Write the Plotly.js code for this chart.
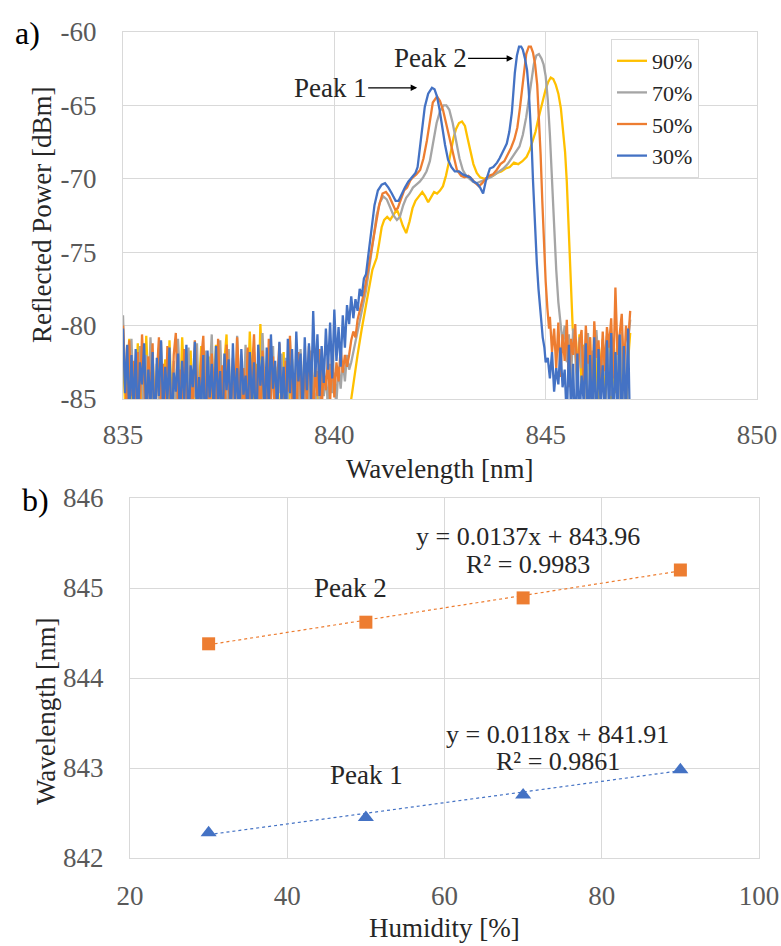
<!DOCTYPE html>
<html>
<head>
<meta charset="utf-8">
<script src="https://cdn.plot.ly/plotly-3.0.1.min.js"></script>
<style>
  html, body { margin: 0; padding: 0; background: #ffffff; }
  #chart { width: 781px; height: 946px; }
</style>
</head>
<body>
<div id="chart"></div>
<script>
// ---------------- Panel a) spectra (read off the picture) ----------------
const seriesNames = ['90%', '70%', '50%', '30%'];
const NOISE_STEP = 0.05;
const LEFT_START = 835.0;
const specTickVals = [-85, -80, -75, -70, -65, -60];
const specTickText = ['-85', '-80', '-75', '-70', '-65', '-60'];

// 30% (blue) — left noise floor, 835.00 .. 840.30
const blueNoiseL = [
  -80.2,-84.6,-81.3,-86.5,-82.0,-85.8,-81.6,-87.0,-82.5,-84.0,
  -81.2,-86.2,-83.0,-85.5,-81.8,-88.0,-82.2,-84.8,-81.0,-86.0,
  -82.8,-85.2,-81.5,-87.5,-83.2,-84.5,-81.9,-86.8,-82.4,-85.0,
  -81.3,-87.2,-82.7,-84.2,-81.1,-86.4,-83.5,-85.6,-82.0,-88.5,
  -81.7,-84.9,-82.6,-86.1,-81.4,-85.3,-83.1,-87.8,-81.9,-84.4,
  -82.3,-86.6,-81.2,-85.1,-82.9,-87.0,-81.6,-84.7,-83.4,-86.3,
  -81.8,-85.4,-82.5,-88.2,-81.3,-84.1,-82.1,-86.9,-81.5,-85.7,
  -80.6,-84.3,-82.4,-86.0,-81.1,-85.2,-82.8,-87.4,-80.9,-84.6,
  -81.6,-85.9,-80.4,-83.8,-81.9,-86.2,-80.8,-84.4,-81.2,-85.0,
  -79.0,-83.5,-80.6,-84.8,-81.4,-83.9,-80.2,-83.0,-79.8,-83.6,
  -78.9,-82.4,-80.1,-82.8,-79.3,-81.5,-78.6
];
const blueBandX = [840.35,840.40,840.45,840.50,840.55,840.60,840.65,840.70,840.75,840.80,840.85,840.90,840.95,841.03,841.12,841.20,841.28,841.36,841.45,841.52,841.60,841.67,841.75,841.84,841.92,841.97,842.03,842.09,842.14,842.22,842.31,842.37,842.43,842.49,842.55,842.62,842.69,842.77,842.85,842.95,843.04,843.12,843.21,843.30,843.37,843.45,843.52,843.58,843.63,843.68,843.76,843.85,843.91,843.97,844.03,844.08,844.14,844.20,844.24,844.27,844.32,844.37,844.42,844.46,844.51,844.56,844.60,844.63,844.67,844.70,844.74,844.79,844.83,844.86,844.90,844.93,844.97,845.00];
const blueBandY = [-79.9,-78.0,-79.5,-78.2,-79.0,-77.5,-78.0,-76.8,-76.5,-75.3,-74.2,-73.0,-71.8,-70.8,-70.4,-70.3,-70.6,-71.0,-71.5,-71.5,-71.0,-70.6,-70.2,-69.9,-69.6,-69.2,-67.8,-66.3,-65.1,-64.2,-63.8,-63.9,-64.4,-65.3,-66.5,-67.7,-68.7,-69.2,-69.5,-69.5,-69.7,-69.8,-69.9,-70.2,-70.3,-70.6,-71.0,-70.2,-69.7,-69.3,-69.2,-68.9,-68.6,-68.2,-67.9,-67.6,-66.8,-65.5,-64.0,-62.8,-61.6,-61.0,-61.0,-61.2,-61.8,-62.6,-64.0,-65.5,-67.8,-70.1,-73.0,-75.7,-77.5,-78.3,-79.8,-80.8,-81.5,-82.5];
const blueRStart = 845.05;
const blueNoiseR = [
  -82.2,-83.6,-81.8,-84.5,-82.9,-84.0,-81.5,-84.2,-83.0,-86.5,
  -81.3,-85.8,-82.6,-88.0,-81.9,-86.5,-83.4,-85.2,-81.2,-87.8,
  -82.0,-86.8,-80.8,-88.5,-81.6,-85.4,-82.7,-87.0,-81.0,-86.2,
  -80.5,-88.0,-81.8,-85.6,-80.6,-87.5,-81.4,-86.4,-80.2,-88.0
];

// 50% (orange)
const orangeNoiseL = [
  -80.0,-83.5,-86.5,-81.0,-84.8,-82.4,-87.0,-81.8,-85.5,-80.6,
  -84.2,-86.8,-82.1,-85.0,-81.2,-87.5,-83.4,-80.8,-85.9,-82.6,
  -86.4,-81.4,-84.0,-87.2,-82.0,-80.5,-85.3,-83.0,-86.0,-81.6,
  -84.6,-88.0,-82.8,-85.7,-81.0,-84.1,-86.9,-82.3,-80.7,-85.4,
  -83.6,-87.4,-81.9,-84.4,-86.2,-80.9,-85.1,-82.7,-87.8,-81.3,
  -84.9,-86.6,-82.2,-85.6,-80.8,-84.3,-87.1,-82.9,-85.8,-81.5,
  -86.3,-83.2,-80.6,-85.2,-82.5,-87.6,-81.7,-84.7,-86.1,-80.9,
  -85.0,-82.1,-87.3,-83.8,-81.2,-85.5,-86.8,-82.4,-84.5,-80.7,
  -85.9,-83.3,-87.0,-81.8,-84.6,-86.5,-82.6,-85.1,-81.4,-84.0,
  -86.2,-82.8,-84.8,-81.6,-85.7,-83.0,-84.4,-82.2,-85.2,-81.8,
  -84.9,-82.5,-83.8,-81.5,-83.2,-82.0,-82.8
];
const orangeBandX = [840.35,840.40,840.45,840.50,840.55,840.60,840.65,840.70,840.75,840.80,840.85,840.90,840.95,841.00,841.06,841.14,841.22,841.30,841.36,841.44,841.50,841.58,841.65,841.72,841.80,841.86,841.94,842.03,842.11,842.19,842.26,842.33,842.43,842.50,842.57,842.65,842.74,842.82,842.90,843.00,843.08,843.17,843.25,843.34,843.42,843.50,843.58,843.66,843.75,843.84,843.93,844.02,844.10,844.18,844.26,844.33,844.39,844.44,844.49,844.54,844.60,844.65,844.70,844.75,844.80,844.84,844.88,844.92,844.96,845.00,845.04,845.08];
const orangeBandY = [-82.0,-81.0,-80.4,-80.8,-79.6,-79.0,-78.6,-77.8,-77.0,-76.2,-75.4,-74.6,-73.6,-72.8,-71.8,-71.0,-70.9,-71.2,-71.6,-72.1,-72.0,-71.3,-70.8,-70.6,-70.1,-69.9,-69.7,-69.4,-68.6,-67.4,-66.0,-64.8,-64.4,-64.7,-65.3,-66.3,-67.4,-68.6,-69.4,-69.8,-69.9,-69.8,-70.0,-70.3,-70.5,-70.3,-70.0,-69.8,-69.7,-69.4,-69.0,-68.8,-68.4,-67.9,-67.3,-66.5,-65.2,-63.8,-62.4,-61.5,-61.0,-61.0,-61.4,-62.2,-63.6,-65.6,-68.3,-71.5,-74.5,-77.0,-78.8,-80.2];
const orangeRStart = 845.10;
const orangeNoiseR = [
  -79.4,-81.8,-80.2,-82.9,-79.8,-83.5,-80.6,-82.4,-79.6,-84.2,
  -80.9,-82.0,-79.9,-83.8,-81.2,-80.3,-84.5,-80.0,-82.6,-80.8,
  -85.2,-79.7,-82.2,-81.0,-84.0,-80.4,-83.1,-80.1,-81.5,-79.5,
  -83.6,-77.4,-82.0,-80.6,-79.2,-83.4,-80.0,-81.2,-79.0
];

// 70% (gray)
const grayNoiseL = [
  -79.3,-84.0,-82.2,-86.0,-80.9,-85.2,-83.1,-87.4,-81.4,-84.5,
  -86.3,-82.0,-85.6,-80.8,-84.1,-87.0,-82.6,-85.3,-81.1,-86.7,
  -83.3,-84.7,-81.9,-87.3,-82.4,-85.8,-80.9,-84.3,-86.5,-82.1,
  -85.1,-81.5,-87.6,-83.0,-84.9,-81.2,-86.0,-82.8,-85.4,-81.7,
  -87.2,-83.5,-80.6,-85.7,-82.3,-86.4,-81.0,-84.6,-83.2,-87.9,
  -81.6,-85.0,-82.9,-86.8,-80.7,-84.2,-83.6,-85.9,-81.3,-86.6,
  -82.5,-84.8,-81.8,-87.1,-83.0,-85.5,-80.5,-84.0,-86.2,-82.7,
  -85.3,-81.4,-86.9,-83.4,-84.6,-81.9,-86.1,-82.2,-85.2,-81.0,
  -84.7,-86.4,-82.5,-85.6,-81.6,-84.2,-87.0,-82.9,-85.8,-81.7,
  -84.4,-86.0,-83.1,-85.0,-82.3,-84.8,-83.5,-85.5,-82.6,-84.6,
  -83.2,-85.2,-82.8,-84.3,-82.4,-83.8,-82.0
];
const grayBandX = [840.35,840.40,840.45,840.50,840.55,840.60,840.65,840.70,840.75,840.80,840.85,840.90,840.95,841.00,841.08,841.16,841.24,841.32,841.40,841.48,841.55,841.63,841.70,841.78,841.86,841.94,842.02,842.10,842.18,842.26,842.34,842.42,842.50,842.58,842.65,842.72,842.80,842.88,842.96,843.04,843.12,843.20,843.28,843.36,843.44,843.52,843.60,843.70,843.80,843.90,844.00,844.10,844.20,844.30,844.38,844.46,844.54,844.60,844.66,844.72,844.78,844.84,844.90,844.95,845.00,845.05,845.10,845.15,845.20,845.25,845.30,845.35];
const grayBandY = [-83.0,-82.5,-81.8,-81.0,-80.4,-79.8,-79.0,-78.3,-77.6,-76.6,-75.5,-74.4,-73.4,-72.5,-71.6,-71.2,-71.4,-72.0,-72.5,-72.8,-72.6,-71.8,-71.3,-71.0,-70.6,-70.4,-70.2,-69.9,-69.5,-68.8,-67.6,-66.2,-65.4,-65.0,-65.0,-65.3,-66.2,-67.4,-68.6,-69.4,-69.8,-70.0,-70.2,-70.3,-70.2,-70.1,-70.0,-69.9,-69.7,-69.5,-69.3,-69.0,-68.6,-68.2,-67.8,-67.0,-65.8,-64.6,-63.3,-62.2,-61.6,-61.5,-61.8,-62.2,-63.0,-64.6,-67.0,-70.2,-73.4,-76.2,-78.4,-80.0];
const grayRStart = 845.40;
const grayNoiseR = [
  -81.2,-80.0,-82.5,-80.6,-83.8,-80.2,-82.0,-84.6,-80.8,-82.9,
  -81.4,-85.3,-80.5,-83.1,-81.7,-84.2,-80.3,-82.6,-85.0,-81.0,
  -83.4,-80.7,-82.2,-84.8,-80.9,-83.0,-81.5,-85.6,-80.4,-82.8,
  -86.0,-81.1,-79.6
];

// 90% (yellow)
const yellowNoiseL = [
  -81.8,-85.5,-82.6,-80.9,-86.2,-83.4,-84.7,-81.2,-87.0,-82.8,
  -85.1,-80.7,-84.3,-86.9,-82.0,-85.8,-83.6,-81.5,-87.3,-84.0,
  -82.3,-86.0,-81.0,-84.9,-83.2,-87.5,-82.5,-85.4,-80.8,-84.6,
  -86.7,-83.0,-81.7,-85.9,-82.9,-87.1,-84.2,-81.4,-86.3,-83.7,
  -85.2,-82.1,-87.6,-84.5,-81.3,-86.1,-83.3,-85.6,-82.4,-80.6,
  -86.8,-84.8,-82.7,-85.3,-81.9,-87.4,-83.9,-86.5,-82.2,-85.0,
  -80.4,-84.1,-86.4,-82.6,-85.7,-79.9,-84.4,-86.6,-83.1,-81.6,
  -85.5,-87.0,-82.8,-84.9,-86.2,-83.5,-81.8,-85.8,-87.2,-84.0,
  -82.3,-86.5,-83.8,-85.1,-87.5,-84.6,-82.5,-86.0,-88.0,-85.3,
  -83.4,-86.8,-84.2,-87.6,-85.5,-88.5,-86.2,-84.8,-87.9,-86.5,
  -88.4,-87.0,-86.6,-89.0,-87.5,-88.0,-86.8
];
const yellowBandX = [840.35,840.40,840.45,840.50,840.55,840.60,840.65,840.70,840.75,840.80,840.85,840.90,840.95,841.00,841.06,841.12,841.18,841.25,841.32,841.40,841.48,841.55,841.62,841.70,841.78,841.85,841.92,842.00,842.08,842.15,842.22,842.28,842.36,842.43,842.50,842.57,842.64,842.70,842.76,842.82,842.88,842.95,843.02,843.09,843.15,843.22,843.29,843.37,843.45,843.55,843.65,843.75,843.85,843.95,844.05,844.15,844.25,844.35,844.45,844.55,844.63,844.70,844.76,844.82,844.88,844.94,845.00,845.06,845.12,845.18,845.24,845.30,845.36,845.41,845.46,845.50,845.54,845.57,845.60,845.64,845.68];
const yellowBandY = [-86.0,-85.0,-83.8,-83.0,-82.0,-81.0,-80.2,-79.4,-78.6,-77.8,-77.0,-76.2,-75.8,-75.4,-74.4,-73.3,-72.8,-72.6,-72.8,-72.4,-72.1,-72.6,-73.2,-73.7,-72.9,-72.0,-71.5,-71.2,-70.9,-71.2,-71.6,-71.3,-70.9,-71.0,-70.8,-70.5,-69.8,-69.0,-68.0,-67.2,-66.6,-66.2,-66.1,-66.4,-67.2,-68.2,-69.0,-69.6,-69.9,-70.0,-69.9,-69.8,-69.6,-69.5,-69.3,-69.2,-68.9,-69.0,-68.8,-68.5,-68.0,-67.4,-66.8,-66.0,-65.2,-64.6,-63.9,-63.4,-63.1,-63.2,-63.6,-64.2,-65.2,-66.6,-68.2,-70.2,-73.0,-75.8,-78.0,-80.2,-81.0];
const yellowRStart = 845.75;
const yellowNoiseR = [
  -82.5,-80.6,-84.0,-81.3,-85.8,-82.2,-80.8,-86.4,-83.0,-81.5,
  -87.0,-82.6,-80.9,-85.5,-83.4,-81.2,-86.8,-82.0,-84.6,-80.7,
  -87.5,-83.2,-81.8,-88.0,-82.4,-80.5
];

// ---------------- Panel b) peak wavelength vs humidity ----------------
const humidity = [30, 50, 70, 90];
const peak2 = [844.38, 844.62, 844.89, 845.20];
const peak1 = [842.28, 842.45, 842.70, 842.98];
const trendX = [30, 90];
const peak2Trend = [844.37, 845.19];
const peak1Trend = [842.26, 842.97];
const peak2Eq = 'y = 0.0137x + 843.96';
const peak2R2 = 'R² = 0.9983';
const peak1Eq = 'y = 0.0118x + 841.91';
const peak1R2 = 'R² = 0.9861';

// ---------------- build ----------------
function grid(start, n) {
  const out = [];
  for (let i = 0; i < n; i++) out.push(+(start + i * NOISE_STEP).toFixed(3));
  return out;
}
function assemble(noiseL, bandX, bandY, rStart, noiseR) {
  const x = grid(LEFT_START, noiseL.length).concat(bandX, grid(rStart, noiseR.length));
  const y = noiseL.concat(bandY, noiseR);
  return {x, y};
}
const sYellow = assemble(yellowNoiseL, yellowBandX, yellowBandY, yellowRStart, yellowNoiseR);
const sGray   = assemble(grayNoiseL, grayBandX, grayBandY, grayRStart, grayNoiseR);
const sOrange = assemble(orangeNoiseL, orangeBandX, orangeBandY, orangeRStart, orangeNoiseR);
const sBlue   = assemble(blueNoiseL, blueBandX, blueBandY, blueRStart, blueNoiseR);

const C_BLUE = '#4472C4', C_ORANGE = '#ED7D31', C_GRAY = '#A5A5A5', C_YELLOW = '#FFC000';
const FONT = 'Liberation Serif, Times New Roman, serif';
const specColors = [C_YELLOW, C_GRAY, C_ORANGE, C_BLUE];
const specSeries = [sYellow, sGray, sOrange, sBlue];

const traces = specSeries.map((s, i) => ({
  type: 'scatter', mode: 'lines', x: s.x, y: s.y, name: seriesNames[i],
  xaxis: 'x', yaxis: 'y',
  line: {color: specColors[i], width: 2.3},
  hoverinfo: 'skip'
}));

traces.push(
  {type: 'scatter', mode: 'lines', x: trendX, y: peak2Trend, xaxis: 'x2', yaxis: 'y2',
   showlegend: false, line: {color: C_ORANGE, width: 1.2, dash: 'dot'}},
  {type: 'scatter', mode: 'lines', x: trendX, y: peak1Trend, xaxis: 'x2', yaxis: 'y2',
   showlegend: false, line: {color: C_BLUE, width: 1.2, dash: 'dot'}},
  {type: 'scatter', mode: 'markers', x: humidity, y: peak2, xaxis: 'x2', yaxis: 'y2',
   showlegend: false, marker: {symbol: 'square', size: 13, color: C_ORANGE}},
  {type: 'scatter', mode: 'markers', x: humidity, y: peak1, xaxis: 'x2', yaxis: 'y2',
   showlegend: false, marker: {symbol: 'triangle-up', size: 14, color: C_BLUE}}
);

const gridC = '#d9d9d9';
const tickFont = {family: FONT, size: 27, color: '#595959'};
const axBase = {
  showgrid: true, gridcolor: gridC, gridwidth: 1,
  showline: true, linecolor: gridC, linewidth: 1, mirror: true,
  zeroline: false, ticks: '', tickfont: tickFont, fixedrange: true
};

const txt = (text, x, y, size, extra) => Object.assign({
  text: text, x: x, y: y, xref: 'paper', yref: 'paper', showarrow: false,
  font: {family: FONT, size: size || 27, color: '#262626'},
  xanchor: 'center', yanchor: 'middle'
}, extra || {});

const W = 781, H = 946;
const px = v => v / W, py = v => 1 - v / H;

const annotations = [
  txt('a)', px(27), py(33), 32, {font: {family: FONT, size: 32, color: '#000'}}),
  txt('b)', px(35), py(500), 32, {font: {family: FONT, size: 32, color: '#000'}}),
  txt('Reflected Power [dBm]', px(42), py(215), 27, {textangle: -90}),
  txt('Wavelength [nm]', px(440), py(469), 27),
  txt('Wavelength [nm]', px(46), py(711), 27, {textangle: -90}),
  txt('Humidity [%]', px(445), py(928), 27),
  // Peak arrows in panel a)
  {text: 'Peak 1', x: 841.96, y: -63.8, xref: 'x', yref: 'y', showarrow: true,
   ax: -87, ay: 0, arrowhead: 2, arrowsize: 1, arrowwidth: 1.3, arrowcolor: '#000',
   font: {family: FONT, size: 27, color: '#262626'}, standoff: 0},
  {text: 'Peak 2', x: 844.23, y: -61.8, xref: 'x', yref: 'y', showarrow: true,
   ax: -83, ay: 0, arrowhead: 2, arrowsize: 1, arrowwidth: 1.3, arrowcolor: '#000',
   font: {family: FONT, size: 27, color: '#262626'}, standoff: 0},
  // Panel b) labels
  {text: peak2Eq, x: 70.6, y: 845.57, xref: 'x2', yref: 'y2', showarrow: false,
   font: {family: FONT, size: 26, color: '#262626'}},
  {text: peak2R2, x: 70.6, y: 845.26, xref: 'x2', yref: 'y2', showarrow: false,
   font: {family: FONT, size: 26, color: '#262626'}},
  {text: peak1Eq, x: 74.4, y: 843.37, xref: 'x2', yref: 'y2', showarrow: false,
   font: {family: FONT, size: 26, color: '#262626'}},
  {text: peak1R2, x: 74.4, y: 843.07, xref: 'x2', yref: 'y2', showarrow: false,
   font: {family: FONT, size: 26, color: '#262626'}},
  {text: 'Peak 2', x: 48.0, y: 845.0, xref: 'x2', yref: 'y2', showarrow: false,
   font: {family: FONT, size: 27, color: '#262626'}},
  {text: 'Peak 1', x: 50.1, y: 842.92, xref: 'x2', yref: 'y2', showarrow: false,
   font: {family: FONT, size: 27, color: '#262626'}}
];

const layout = {
  width: W, height: H,
  margin: {l: 0, r: 0, t: 0, b: 0},
  paper_bgcolor: '#ffffff', plot_bgcolor: '#ffffff',
  font: {family: FONT, color: '#262626'},
  showlegend: true,
  legend: {
    x: px(611), y: py(39), xanchor: 'left', yanchor: 'top',
    bgcolor: '#ffffff', bordercolor: gridC, borderwidth: 1,
    font: {family: FONT, size: 22, color: '#262626'},
    traceorder: 'normal'
  },
  xaxis: Object.assign({}, axBase, {domain: [px(123), px(757)], range: [835, 850], dtick: 5, tick0: 835,
    anchor: 'y', ticklabelstandoff: 12}),
  yaxis: Object.assign({}, axBase, {domain: [py(399), py(32)], range: [-85, -60],
    tickmode: 'array', tickvals: specTickVals, ticktext: specTickText,
    anchor: 'x', ticklabelstandoff: 20}),
  xaxis2: Object.assign({}, axBase, {domain: [px(130), px(759)], range: [20, 100], dtick: 20, tick0: 20,
    anchor: 'y2', ticklabelstandoff: 14}),
  yaxis2: Object.assign({}, axBase, {domain: [py(858), py(498)], range: [842, 846], dtick: 1, tick0: 842,
    anchor: 'x2', ticklabelstandoff: 20}),
  annotations: annotations
};

Plotly.newPlot('chart', traces, layout, {staticPlot: true, displayModeBar: false});
</script>
</body>
</html>
